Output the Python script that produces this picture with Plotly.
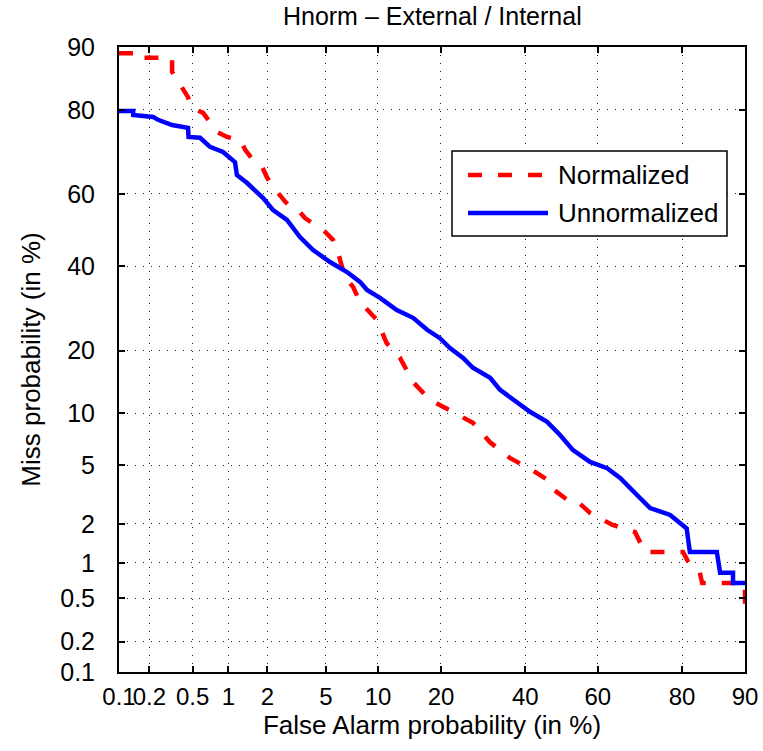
import plotly.graph_objects as go
from statistics import NormalDist

# ---- data (percentages) ----
tick_pct = [0.1, 0.2, 0.5, 1, 2, 5, 10, 20, 40, 60, 80, 90]
tick_txt = ["0.1", "0.2", "0.5", "1", "2", "5", "10", "20", "40", "60", "80", "90"]

fa_unnorm = [0.10, 0.139, 0.139, 0.217, 0.242, 0.327, 0.455, 0.46, 0.58, 0.705, 0.904, 1.13, 1.17,
             1.40, 1.86, 2.20, 2.76, 3.39, 4.14, 5.30, 6.71, 7.97, 8.72, 10.25, 12.5, 15.0, 17.4,
             19.8, 21.8, 24.6, 26.8, 30.9, 33.4, 36.7, 41.3, 46.0, 49.6, 53.2, 57.9, 62.5, 65.9,
             70.1, 73.2, 77.6, 80.2, 80.9, 81.5, 86.1, 86.6, 88.45, 88.45, 90]
miss_unnorm = [79.8, 79.8, 79.0, 78.6, 78.0, 76.9, 76.3, 74.3, 74.1, 72.0, 70.8, 68.3, 65.0,
               63.0, 58.9, 55.6, 52.9, 48.1, 44.5, 41.2, 38.5, 35.9, 33.8, 31.8, 28.8, 27.0, 24.3,
               22.5, 20.5, 18.6, 16.8, 15.1, 13.2, 11.8, 10.2, 9.0, 7.6, 6.2, 5.25, 4.8, 4.15,
               3.2, 2.6, 2.32, 1.95, 1.85, 1.22, 1.22, 0.83, 0.83, 0.68, 0.68]

fa_norm = [0.10, 0.163, 0.163, 0.327, 0.327, 0.40, 0.455, 0.49, 0.616, 0.705, 0.81, 0.975, 1.24,
           1.36, 1.56, 1.83, 1.98, 2.20, 2.55, 2.81, 3.29, 3.66, 4.26, 4.94, 5.53, 5.93, 6.10,
           6.52, 7.27, 7.97, 9.88, 11.1, 12.97, 15.0, 17.9, 22.4, 26.8, 30.9, 35.9, 41.8, 46.2,
           46.8, 52.4, 54.6, 57.9, 63.8, 69.6, 72.0, 80.2, 81.5, 83.3, 83.7, 90, 90]
miss_norm = [89.2, 89.2, 88.6, 88.6, 86.6, 84.2, 82.4, 80.4, 79.4, 77.5, 75.4, 74.3, 73.6,
             71.3, 68.8, 67.1, 64.5, 61.9, 59.2, 57.0, 55.6, 53.4, 51.5, 49.5, 47.3, 44.0, 41.8,
             37.2, 34.6, 30.8, 26.5, 21.5, 18.6, 14.4, 11.8, 10.2, 8.9, 6.9, 5.56, 4.68, 4.03,
             3.63, 2.87, 2.87, 2.40, 1.97, 1.74, 1.22, 1.22, 0.96, 0.83, 0.68, 0.68, 0.42]

series_names = ["Normalized", "Unnormalized"]
series_colors = ["#ff0000", "#0000ff"]

# ---- normal-deviate (DET) scale ----
_nd = NormalDist()
def probit(pcts):
    return [_nd.inv_cdf(p / 100.0) for p in pcts]

FONT = "Liberation Sans, Arial, Helvetica, sans-serif"
RED_DASH = "14px,16px"

fig = go.Figure()
fig.add_trace(go.Scatter(x=probit(fa_norm), y=probit(miss_norm), mode="lines",
                         name=series_names[0], showlegend=False,
                         line=dict(color=series_colors[0], width=4.5, dash=RED_DASH)))
fig.add_trace(go.Scatter(x=probit(fa_unnorm), y=probit(miss_unnorm), mode="lines",
                         name=series_names[1], showlegend=False,
                         line=dict(color=series_colors[1], width=4.5)))

rng = [_nd.inv_cdf(0.001), _nd.inv_cdf(0.9)]
axis_common = dict(
    range=rng, tickmode="array", tickvals=probit(tick_pct), ticktext=tick_txt,
    showgrid=True, gridcolor="#222222", gridwidth=1, griddash="1px,7px",
    zeroline=False, showline=True, linecolor="black", linewidth=2, mirror="ticks",
    ticks="inside", ticklen=6, tickwidth=1.5, tickcolor="black", tickangle=0,
    automargin=False,
)

fig.update_xaxes(**axis_common, ticklabelstandoff=2,
                 tickfont=dict(family=FONT, size=24, color="black"),
                 title=dict(text="False Alarm probability (in %)",
                            font=dict(family=FONT, size=26, color="black"), standoff=2))
fig.update_yaxes(**axis_common, ticklabelstandoff=17,
                 tickfont=dict(family=FONT, size=25, color="black"),
                 title=dict(text="Miss probability (in %)",
                            font=dict(family=FONT, size=26, color="black"), standoff=12))

# ---- legend drawn manually (MATLAB-style long line samples) ----
L, R, T, B = 119, 745, 47, 672
def px(x):
    return (x - L) / (R - L)
def py(y):
    return (B - y) / (B - T)

shapes = [
    dict(type="rect", xref="paper", yref="paper", x0=px(452), x1=px(727), y0=py(236), y1=py(151),
         line=dict(color="black", width=1.5), fillcolor="white", layer="above"),
]
annotations = []
for i, (name, col) in enumerate(zip(series_names, series_colors)):
    yy = py(175 + 38 * i)
    shapes.append(dict(type="line", xref="paper", yref="paper", x0=px(468), x1=px(548),
                       y0=yy, y1=yy, layer="above",
                       line=dict(color=col, width=4.5, dash=RED_DASH if i == 0 else "solid")))
    annotations.append(dict(xref="paper", yref="paper", x=px(556), y=yy, text=name,
                            showarrow=False, xanchor="left", yanchor="middle",
                            font=dict(family=FONT, size=26, color="black")))

fig.update_layout(
    width=763, height=751,
    margin=dict(l=L, r=763 - R, t=T, b=751 - B),
    paper_bgcolor="white", plot_bgcolor="white",
    title=dict(text="Hnorm – External / Internal", x=0.5666, xanchor="center",
               y=1 - 16 / 751, yanchor="middle", yref="container",
               font=dict(family=FONT, size=25, color="black")),
    shapes=shapes, annotations=annotations, showlegend=False,
)

fig.write_html("out.html")
